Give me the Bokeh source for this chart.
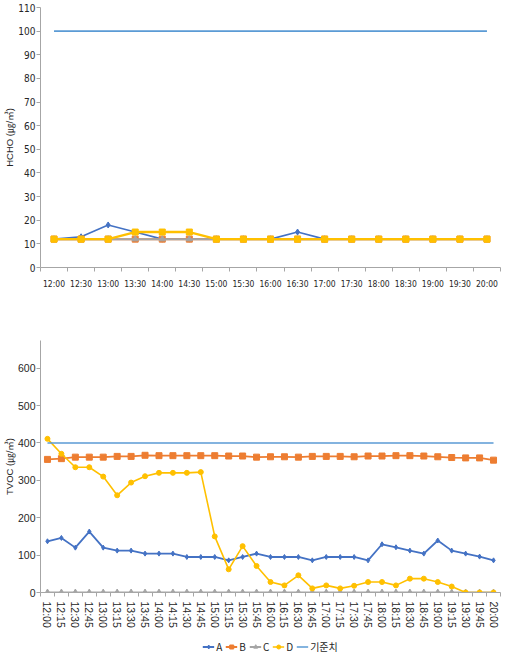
from bokeh.plotting import figure
from bokeh.models import FixedTicker, Legend, LegendItem, Range1d
from bokeh.layouts import column
from bokeh.embed import file_html
from bokeh.resources import INLINE

# ---------------- data ----------------
hcho_times = ["12:00", "12:30", "13:00", "13:30", "14:00", "14:30", "15:00", "15:30",
              "16:00", "16:30", "17:00", "17:30", "18:00", "18:30", "19:00", "19:30", "20:00"]
hcho_A = [12, 13, 18, 15, 12, 12, 12, 12, 12, 15, 12, 12, 12, 12, 12, 12, 12]
hcho_B = [12, 12, 12, 12, 12, 12, 12, 12, 12, 12, 12, 12, 12, 12, 12, 12, 12]
hcho_C = [12, 12, 12, 12, 12, 12, 12, 12, 12, 12, 12, 12, 12, 12, 12, 12, 12]
hcho_D = [12, 12, 12, 15, 15, 15, 12, 12, 12, 12, 12, 12, 12, 12, 12, 12, 12]
hcho_std = [100, 100, 100, 100, 100, 100, 100, 100, 100, 100, 100, 100, 100, 100, 100, 100, 100]
hcho_yticks = [0, 10, 20, 30, 40, 50, 60, 70, 80, 90, 100, 110]

tvoc_times = ["12:00", "12:15", "12:30", "12:45", "13:00", "13:15", "13:30", "13:45",
              "14:00", "14:15", "14:30", "14:45", "15:00", "15:15", "15:30", "15:45",
              "16:00", "16:15", "16:30", "16:45", "17:00", "17:15", "17:30", "17:45",
              "18:00", "18:15", "18:30", "18:45", "19:00", "19:15", "19:30", "19:45", "20:00"]
tvoc_A = [137, 146, 120, 163, 120, 112, 112, 104, 104, 104, 95, 95, 95, 86, 95, 104,
          95, 95, 95, 86, 95, 95, 95, 86, 129, 121, 112, 104, 139, 112, 104, 96, 86]
tvoc_B = [356, 358, 362, 362, 362, 364, 364, 367, 366, 366, 366, 366, 366, 365, 365, 362,
          363, 363, 362, 364, 364, 364, 363, 365, 365, 366, 366, 365, 363, 361, 360, 360, 354]
tvoc_C = [0, 0, 0, 0, 0, 0, 0, 0, 0, 0, 0, 0, 0, 0, 0, 0,
          0, 0, 0, 0, 0, 0, 0, 0, 0, 0, 0, 0, 0, 0, 0, 0, 0]
tvoc_D = [411, 371, 335, 335, 310, 260, 294, 311, 320, 320, 320, 322, 150, 62, 124, 71,
          28, 19, 46, 11, 19, 11, 18, 28, 28, 19, 37, 37, 28, 16, 0, 0, 0]
tvoc_std = [400, 400, 400, 400, 400, 400, 400, 400, 400, 400, 400, 400, 400, 400, 400, 400,
            400, 400, 400, 400, 400, 400, 400, 400, 400, 400, 400, 400, 400, 400, 400, 400, 400]
tvoc_yticks = [0, 100, 200, 300, 400, 500, 600]

series_names = ["A", "B", "C", "D", "기준치"]
colors = ["#4472C4", "#ED7D31", "#A5A5A5", "#FFC000", "#5B9BD5"]

NARROW = "DejaVu Sans Condensed, Liberation Sans Narrow, Liberation Sans, sans-serif"
REG = "Liberation Sans, Noto Sans CJK KR, sans-serif"
AXIS_COL = "#A6A6A6"
TXT = "#262626"


def style(p, xt_labels, xfont, xsize, yfont, ysize):
    n = len(xt_labels)
    xticks = list(range(n))
    p.xaxis.ticker = FixedTicker(ticks=xticks, minor_ticks=[i - 0.5 for i in range(n + 1)])
    p.xaxis.major_label_overrides = {i: t for i, t in enumerate(xt_labels)}
    p.xaxis.major_tick_out = 0
    p.xaxis.major_tick_in = 0
    p.xaxis.minor_tick_out = 4
    p.xaxis.minor_tick_in = 0
    p.xaxis.minor_tick_line_color = AXIS_COL
    p.xaxis.axis_line_color = AXIS_COL
    p.yaxis.axis_line_color = AXIS_COL
    p.yaxis.major_tick_line_color = AXIS_COL
    p.yaxis.major_tick_out = 4
    p.yaxis.major_tick_in = 0
    p.yaxis.minor_tick_line_color = None
    p.xaxis.major_label_text_font = xfont
    p.yaxis.major_label_text_font = yfont
    p.xaxis.major_label_text_font_size = xsize
    p.yaxis.major_label_text_font_size = ysize
    p.xaxis.major_label_text_color = TXT
    p.yaxis.major_label_text_color = TXT
    p.yaxis.major_label_standoff = 1
    p.yaxis.axis_label_text_font = "Liberation Sans, Noto Sans CJK KR, sans-serif"
    p.yaxis.axis_label_text_font_style = "normal"
    p.yaxis.axis_label_text_font_size = "9.5px"
    p.yaxis.axis_label_text_color = TXT
    p.yaxis.axis_label_standoff = 0
    p.xgrid.grid_line_color = None
    p.ygrid.grid_line_color = None
    p.outline_line_color = None
    p.background_fill_color = "white"
    p.border_fill_color = "white"


# ---------------- top chart (HCHO) ----------------
p1 = figure(width=503, height=305, output_backend="svg", toolbar_location=None,
            x_range=Range1d(-0.5, len(hcho_times) - 0.5), y_range=Range1d(0, 110),
            min_border_left=0, min_border_right=3, min_border_top=7, min_border_bottom=38)
style(p1, hcho_times, NARROW, "8.5px", NARROW, "10px")
p1.yaxis.ticker = FixedTicker(ticks=hcho_yticks)
p1.yaxis.axis_label = "HCHO (㎍/㎥)"
p1.xaxis.major_label_standoff = 7

hx = list(range(len(hcho_times)))
top_series = [hcho_A, hcho_B, hcho_C, hcho_D, hcho_std]
top_markers = ["diamond", "square", "triangle", "square", None]
top_widths = [1.6, 2, 2, 2.4, 1.6]
top_sizes = [6, 6, 6, 6, 0]
for ys, c, m, lw, sz in zip(top_series, colors, top_markers, top_widths, top_sizes):
    p1.line(hx, ys, line_color=c, line_width=lw)
    if m:
        p1.scatter(hx, ys, marker=m, size=sz, fill_color=c, line_color=c)

# ---------------- bottom chart (TVOC) ----------------
p2 = figure(width=503, height=331, output_backend="svg", toolbar_location=None,
            x_range=Range1d(-0.5, len(tvoc_times) - 0.5), y_range=Range1d(0, 674),
            min_border_left=0, min_border_right=3, min_border_top=35, min_border_bottom=44)
style(p2, tvoc_times, REG, "10.5px", REG, "10.5px")
p2.yaxis.ticker = FixedTicker(ticks=tvoc_yticks)
p2.yaxis.axis_label = "TVOC (㎍/㎥)"
p2.xaxis.major_label_orientation = "vertical"
p2.xaxis.major_label_standoff = 5

tx = list(range(len(tvoc_times)))
bot_series = [tvoc_A, tvoc_B, tvoc_C, tvoc_D, tvoc_std]
bot_markers = ["diamond", "square", "triangle", "circle", None]
bot_widths = [1.8, 1.8, 1.8, 1.6, 1.6]
bot_sizes = [5, 6, 6, 5, 0]
for ys, c, m, lw, sz in zip(bot_series, colors, bot_markers, bot_widths, bot_sizes):
    p2.line(tx, ys, line_color=c, line_width=lw)
    if m:
        p2.scatter(tx, ys, marker=m, size=sz, fill_color=c, line_color=c)

# ---------------- legend strip (series drawn off-range, only the key shows) ----------------
p3 = figure(width=503, height=20, output_backend="svg", toolbar_location=None,
            x_axis_type=None, y_axis_type=None,
            x_range=Range1d(-0.5, len(tvoc_times) - 0.5), y_range=Range1d(10000, 10001),
            min_border_left=0, min_border_right=0, min_border_top=0, min_border_bottom=0)
p3.outline_line_color = None
p3.xgrid.grid_line_color = None
p3.ygrid.grid_line_color = None
items = []
for name, ys, c, m, lw, sz in zip(series_names, bot_series, colors, bot_markers, bot_widths, bot_sizes):
    rs = [p3.line(tx, ys, line_color=c, line_width=lw)]
    if m:
        rs.append(p3.scatter(tx, ys, marker=m, size=sz, fill_color=c, line_color=c))
    items.append(LegendItem(label=name, renderers=rs))
legend = Legend(items=items, orientation="horizontal", location="center",
                label_text_font="Noto Sans CJK KR", label_text_font_size="10px",
                label_text_color=TXT, glyph_width=12, glyph_height=10, spacing=3,
                label_standoff=2, label_width=0, padding=0, margin=0,
                border_line_color=None, background_fill_alpha=0)
p3.add_layout(legend, "center")

layout = column(p1, p2, p3, spacing=0)
open("out.html", "w").write(file_html(layout, INLINE))
